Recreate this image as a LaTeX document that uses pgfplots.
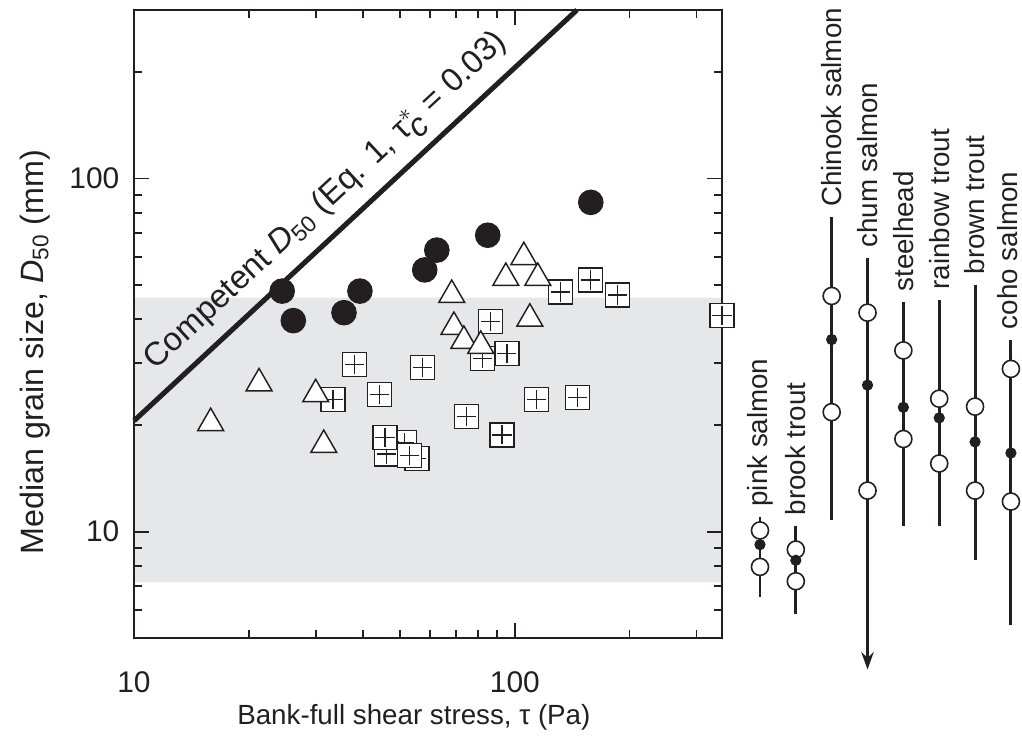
\documentclass[border=0pt]{standalone}
\usepackage{fontspec}
\setmainfont{Liberation Sans}
\usepackage{pgfplots}
\pgfplotsset{compat=1.18}
\usetikzlibrary{plotmarks,arrows.meta}
\definecolor{ink}{HTML}{231F20}
\definecolor{band}{HTML}{E6E7E8}
% open square with a plus inside
\pgfdeclareplotmark{boxplus}{%
  \pgfpathrectangle{\pgfpoint{-\pgfplotmarksize}{-\pgfplotmarksize}}{\pgfpoint{2\pgfplotmarksize}{2\pgfplotmarksize}}%
  \pgfusepathqfillstroke
  \pgfpathmoveto{\pgfpoint{-0.8\pgfplotmarksize}{0pt}}\pgfpathlineto{\pgfpoint{0.8\pgfplotmarksize}{0pt}}%
  \pgfpathmoveto{\pgfpoint{0pt}{-0.8\pgfplotmarksize}}\pgfpathlineto{\pgfpoint{0pt}{0.8\pgfplotmarksize}}%
  \pgfusepathqstroke}

\begin{document}
\begin{tikzpicture}[font=\fontsize{10.4}{12}\selectfont, color=ink]
\begin{axis}[
  at={(0,0)}, anchor=south west,
  width=220.5pt, height=235.5pt, scale only axis,
  xmode=log, ymode=log,
  xmin=10, xmax=350, ymin=5, ymax=300,
  xtick={10,100}, xticklabels={10,100},
  ytick={10,100}, yticklabels={10,100},
  minor xtick={20,30,40,50,60,70,80,90,200,300},
  minor ytick={6,7,8,9,20,30,40,50,60,70,80,90,200,300},
  tick align=inside,
  major tick length=5.8pt, minor tick length=3pt,
  axis line style={line width=0.8pt, ink},
  every tick/.style={line width=0.7pt, ink},
  tick label style={font=\fontsize{11.2}{13}\selectfont},
  xticklabel style={yshift=-9pt},
  yticklabel style={xshift=-2pt},
  xlabel={Bank-full shear stress, τ (Pa)},
  ylabel={Median grain size, \textit{D}\textsubscript{50} (mm)},
  xlabel style={at={(axis description cs:0.476,-0.127)}, anchor=center},
  ylabel style={at={(axis description cs:-0.168,0.455)}, anchor=center, font=\fontsize{12.1}{14}\selectfont},
  set layers, clip=false,
]
% range of spawning gravel (grey band)
\addplot[fill=band, draw=none, on layer=axis background] coordinates {(10,7.2) (350,7.2) (350,46) (10,46) (10,7.2)};

% competent D50 line
\addplot[ink, line width=1.9pt] coordinates {(10,20.6) (145.6,300)}
  node[pos=0.48, sloped, above, font=\fontsize{12.3}{14}\selectfont]
  {Competent \textit{D}\textsubscript{50} (Eq. 1, τ$^{*}_{\textit{c}}$ = 0.03)};

% squares
\addplot[only marks, mark=boxplus, mark size=4.5pt, mark options={fill=white, draw=ink, line width=0.5pt}] coordinates {
(158.3,51.6) (132.0,47.7) (186.3,46.8) (350,40.9) (86.5,39.3) (95.3,31.9)
(82.4,30.9) (38.0,29.7) (57.3,29.2) (33.3,23.7) (44.2,24.5) (114.2,23.7)
(146.3,24.0) (74.8,21.2) (92.5,18.8) (51.4,17.9) (46.1,16.6) (55.3,16.1)
(45.6,18.5) (53.0,16.4)
};
% triangles
\addplot[only marks, mark=triangle*, mark size=5.6pt, mark options={fill=white, draw=ink, line width=0.55pt}] coordinates {
(105.6,59.9) (94.7,52.3) (114.9,52.3) (68.3,46.8) (109.5,40.1) (69.2,38.0)
(73.5,34.7) (81.4,33.6) (21.3,26.3) (30.0,24.5) (15.9,20.3) (31.5,17.6)
};
% filled circles
\addplot[only marks, mark=*, mark size=4.6pt, mark options={fill=ink, draw=ink}] coordinates {
(24.5,48.0) (26.2,39.6) (35.6,41.7) (39.2,48.0) (58.0,55.1) (62.4,62.7)
(84.9,69.1) (158.3,85.6)
};
\end{axis}

% species ranges of spawning grain size
\begin{axis}[
  at={(221.3pt,0)}, anchor=south west,
  width=121pt, height=235.5pt, scale only axis,
  hide axis, clip=false,
  ymode=log, xmin=-1, xmax=8, ymin=5, ymax=300,
]
\addplot[ink, line width=1.1pt] coordinates {(0,11.0) (0,6.55)};
\addplot[ink, line width=1.1pt] coordinates {(1,10.4) (1,5.85)};
\addplot[ink, line width=1.1pt] coordinates {(2,77.6) (2,10.76)};
\addplot[ink, line width=1.1pt, -{Stealth[length=6.5pt, width=4.6pt]}] coordinates {(3,59.5) (3,4.07)};
\addplot[ink, line width=1.1pt] coordinates {(4,44.7) (4,10.38)};
\addplot[ink, line width=1.1pt] coordinates {(5,45.3) (5,10.38)};
\addplot[ink, line width=1.1pt] coordinates {(6,50.0) (6,8.30)};
\addplot[ink, line width=1.1pt] coordinates {(7,35.0) (7,5.43)};
\addplot[only marks, mark=*, mark size=3.2pt, mark options={fill=white, draw=ink, line width=0.6pt}] coordinates {
(0,10.08) (0,7.95) (1,8.90) (1,7.24) (2,46.5) (2,21.8) (3,41.7) (3,13.07)
(4,32.6) (4,18.3) (5,23.8) (5,15.6) (6,22.6) (6,13.07) (7,28.9) (7,12.17)
};
\addplot[only marks, mark=*, mark size=1.9pt, mark options={fill=ink, draw=ink}] coordinates {
(0,9.19) (1,8.30) (2,35.0) (3,26.0) (4,22.5) (5,21.0) (6,17.96) (7,16.7)
};
\node[rotate=90, anchor=west, inner sep=0pt] at ([yshift=3.75pt]axis cs:0,11.0) {pink salmon};
\node[rotate=90, anchor=west, inner sep=0pt] at ([yshift=3.75pt]axis cs:1,10.4) {brook trout};
\node[rotate=90, anchor=west, inner sep=0pt] at ([yshift=3.75pt]axis cs:2,77.6) {Chinook salmon};
\node[rotate=90, anchor=west, inner sep=0pt] at ([yshift=3.75pt]axis cs:3,59.5) {chum salmon};
\node[rotate=90, anchor=west, inner sep=0pt] at ([yshift=3.75pt]axis cs:4,44.7) {steelhead};
\node[rotate=90, anchor=west, inner sep=0pt] at ([yshift=3.75pt]axis cs:5,45.3) {rainbow trout};
\node[rotate=90, anchor=west, inner sep=0pt] at ([yshift=3.75pt]axis cs:6,50.0) {brown trout};
\node[rotate=90, anchor=west, inner sep=0pt] at ([xshift=-1.2pt,yshift=3.75pt]axis cs:7,35.0) {coho salmon};
\end{axis}
\pgfresetboundingbox
\useasboundingbox (-50.25pt,-38.625pt) rectangle (333pt,239.25pt);
\end{tikzpicture}
\end{document}
